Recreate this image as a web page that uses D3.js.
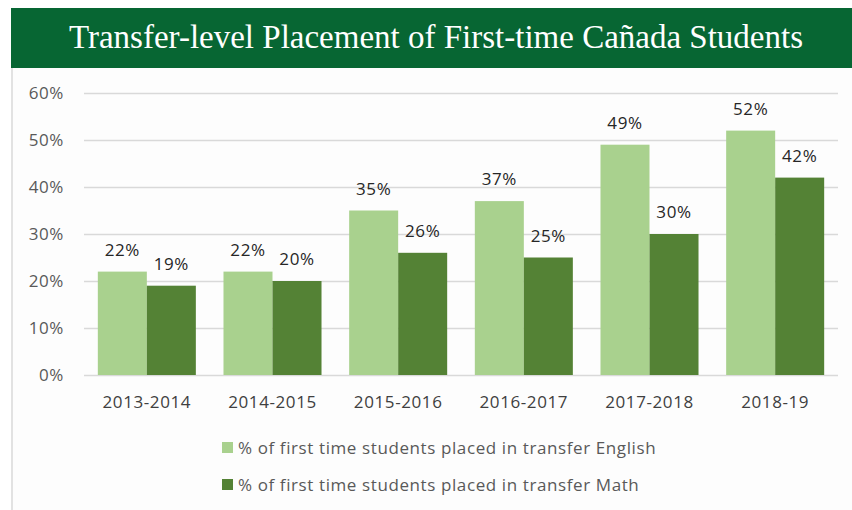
<!DOCTYPE html>
<html>
<head>
<meta charset="utf-8">
<script src="https://cdn.jsdelivr.net/npm/d3@7"></script>
<style>
  body { margin: 0; background: #ffffff; }
  svg { display: block; }
</style>
</head>
<body>
<div id="chart"></div>
<script>
// data
const years = ['2013-2014', '2014-2015', '2015-2016', '2016-2017', '2017-2018', '2018-19'];
const english = [22, 22, 35, 37, 49, 52];
const math = [19, 20, 26, 25, 30, 42];
const yTicks = [0, 10, 20, 30, 40, 50, 60];
const seriesNames = [
    '% of first time students placed in transfer English',
    '% of first time students placed in transfer Math'
];
const seriesColors = ['#a9d18e', '#548235'];
const title = 'Transfer-level Placement of First-time Cañada Students';

const width = 852, height = 510;
const font = '"Open Sans", "Liberation Sans", sans-serif';

const svg = d3.select('#chart').append('svg')
    .attr('width', width)
    .attr('height', height);

// panel background + left edge
svg.append('rect')
    .attr('x', 11).attr('y', 68)
    .attr('width', width - 11).attr('height', height - 68)
    .attr('fill', '#fdfdfd');
svg.append('rect')
    .attr('x', 11).attr('y', 68)
    .attr('width', 2).attr('height', height - 68)
    .attr('fill', '#e2e2e2');

// header band
svg.append('rect')
    .attr('x', 11).attr('y', 8)
    .attr('width', width - 11).attr('height', 60)
    .attr('fill', '#076633');
svg.append('text')
    .attr('x', 436).attr('y', 48)
    .attr('text-anchor', 'middle')
    .attr('fill', '#ffffff')
    .style('font-family', '"Liberation Serif", "DejaVu Serif", serif')
    .style('font-size', '33px')
    .text(title);

const margin = { left: 84, right: 14, top: 93, bottom: 135 };
const x0 = d3.scaleBand()
    .domain(years)
    .range([margin.left, width - margin.right])
    .paddingInner(0.22)
    .paddingOuter(0.11);
const x1 = d3.scaleBand()
    .domain([0, 1])
    .range([0, x0.bandwidth()]);
const y = d3.scaleLinear()
    .domain([0, 60])
    .range([height - margin.bottom, margin.top]);

// text style helper
const styleText = (sel, color) => sel
    .attr('fill', color)
    .style('font-family', font)
    .style('font-size', '17px')
    .style('letter-spacing', '0.6px');

// gridlines
const yAxis = d3.axisLeft(y)
    .tickValues(yTicks)
    .tickFormat(d => d + '%')
    .tickSize(-(width - margin.left - margin.right))
    .tickPadding(20);
const gy = svg.append('g')
    .attr('transform', `translate(${margin.left},0)`)
    .call(yAxis);
gy.select('.domain').remove();
gy.selectAll('.tick line').attr('stroke', '#d9d9d9').attr('stroke-width', 1.5);
styleText(gy.selectAll('.tick text'), '#595959');

// x axis labels
const xAxis = d3.axisBottom(x0).tickSize(0).tickPadding(21);
const gx = svg.append('g')
    .attr('transform', `translate(0,${y(0)})`)
    .call(xAxis);
gx.select('.domain').remove();
styleText(gx.selectAll('.tick text'), '#404040');

// bars
const rows = years.map((yr, i) => ({ year: yr, values: [english[i], math[i]] }));
const groups = svg.append('g').selectAll('g')
    .data(rows)
    .join('g')
    .attr('transform', d => `translate(${x0(d.year)},0)`);

groups.selectAll('rect')
    .data(d => d.values.map((v, k) => ({ v, k })))
    .join('rect')
    .attr('x', d => x1(d.k))
    .attr('y', d => y(d.v))
    .attr('width', x1.bandwidth())
    .attr('height', d => y(0) - y(d.v))
    .attr('fill', d => seriesColors[d.k]);

groups.selectAll('text')
    .data(d => d.values.map((v, k) => ({ v, k })))
    .join('text')
    .attr('x', d => x1(d.k) + x1.bandwidth() / 2)
    .attr('y', d => y(d.v) - 16)
    .attr('text-anchor', 'middle')
    .call(styleText, '#262626')
    .text(d => d.v + '%');

// legend
const legend = svg.append('g').selectAll('g')
    .data(seriesNames)
    .join('g')
    .attr('transform', (d, i) => `translate(222,${442 + i * 37})`);
legend.append('rect')
    .attr('width', 11).attr('height', 11)
    .attr('fill', (d, i) => seriesColors[i]);
legend.append('text')
    .attr('x', 16).attr('y', 6)
    .attr('dy', '0.35em')
    .call(styleText, '#595959')
    .text(d => d);
</script>
</body>
</html>
